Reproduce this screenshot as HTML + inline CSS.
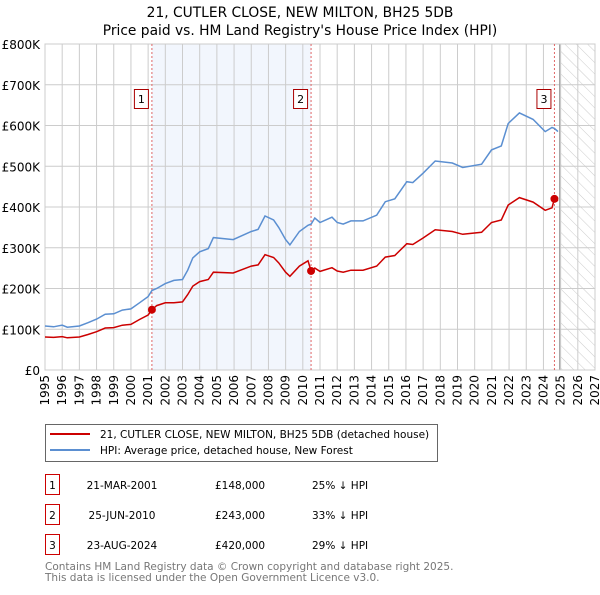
<!DOCTYPE html>
<html><head><meta charset="utf-8"><style>
body{margin:0;background:#fff;width:600px;height:590px;overflow:hidden}
svg text{font-family:"DejaVu Sans","Liberation Sans",sans-serif}
</style></head><body>
<svg id="chart" width="600" height="590" viewBox="0 0 600 590" xmlns="http://www.w3.org/2000/svg">
<defs><pattern id="hatch" width="8" height="8" patternUnits="userSpaceOnUse" patternTransform="rotate(-45)"><line x1="0" y1="0" x2="0" y2="8" stroke="#ccc" stroke-width="1"/></pattern></defs>
<text x="300" y="17" text-anchor="middle" font-size="13.8">21, CUTLER CLOSE, NEW MILTON, BH25 5DB</text>
<text x="300" y="35" text-anchor="middle" font-size="13.8">Price paid vs. HM Land Registry's House Price Index (HPI)</text>
<g id="plot"></g>
<g>
<rect x="45.5" y="424.5" width="392" height="37" fill="#fff" stroke="#666"/>
<line x1="50" y1="434" x2="90" y2="434" stroke="#cc0000" stroke-width="2"/>
<text x="100" y="438" font-size="10.5">21, CUTLER CLOSE, NEW MILTON, BH25 5DB (detached house)</text>
<line x1="50" y1="450" x2="90" y2="450" stroke="#5b8fd1" stroke-width="2"/>
<text x="100" y="454" font-size="10.5">HPI: Average price, detached house, New Forest</text>
</g>
<g id="table" font-size="10.5"></g>
<text x="45" y="570" font-size="10.5" fill="#777">Contains HM Land Registry data © Crown copyright and database right 2025.</text>
<text x="45" y="581" font-size="10.5" fill="#777">This data is licensed under the Open Government Licence v3.0.</text>
</svg>
<script>
const dates=[1995.0,1995.5,1996.0,1996.3,1997.0,1997.5,1998.0,1998.5,1999.0,1999.5,2000.0,2000.5,2001.0,2001.22,2001.5,2002.0,2002.5,2003.0,2003.3,2003.6,2004.0,2004.5,2004.8,2005.95,2007.0,2007.4,2007.8,2008.3,2008.6,2009.0,2009.25,2009.8,2010.3,2010.48,2010.7,2011.0,2011.7,2012.0,2012.35,2012.8,2013.5,2014.3,2014.8,2015.35,2016.05,2016.4,2017.0,2017.7,2018.7,2019.3,2020.4,2020.98,2021.55,2021.95,2022.6,2023.4,2024.1,2024.5,2024.64,2024.85];
const hpiValues=[108,106,110,105,108,116,125,137,138,147,150,165,180,195,200,212,220,222,245,275,290,298,325,320,340,345,378,368,350,320,307,340,355,358,373,362,375,362,358,366,366,380,413,420,462,460,483,513,508,497,505,540,550,605,631,615,585,595,593,585];
const priceValues=[81,80,82,79,81,87,94,103,104,110,112,124,135,148,158,165,165,167,185,206,217,222,240,238,255,258,283,276,263,240,230,255,268,243,250,242,251,243,240,245,245,255,277,281,310,308,324,344,340,333,338,362,368,405,423,412,392,398,420,415];
const saleLabels=['1','2','3'];
const saleDates=[2001.22,2010.48,2024.64];
const salePrices=[148,243,420];
const saleDateText=['21-MAR-2001','25-JUN-2010','23-AUG-2024'];
const salePriceText=['£148,000','£243,000','£420,000'];
const salePctText=['25% ↓ HPI','33% ↓ HPI','29% ↓ HPI'];
const yTicks=[0,100,200,300,400,500,600,700,800];
const yTickLabels=['£0','£100K','£200K','£300K','£400K','£500K','£600K','£700K','£800K'];
const xTicks=[1995,1996,1997,1998,1999,2000,2001,2002,2003,2004,2005,2006,2007,2008,2009,2010,2011,2012,2013,2014,2015,2016,2017,2018,2019,2020,2021,2022,2023,2024,2025,2026,2027];
const forecastStart=2025;

const NS='http://www.w3.org/2000/svg';
const X0=45,X1=595,Y0=370,Y1=44;
const xs=v=>X0+(v-1995)/(2027-1995)*(X1-X0);
const ys=v=>Y0-v/800*(Y0-Y1);
const plot=document.getElementById('plot');
function mk(tag,attrs,parent){const e=document.createElementNS(NS,tag);for(const k in attrs)e.setAttribute(k,attrs[k]);(parent||plot).appendChild(e);return e;}

let e=mk('rect',{x:xs(saleDates[0]),y:Y1,width:xs(saleDates[1])-xs(saleDates[0]),height:Y0-Y1,fill:'#f2f6fd'});


e=mk('rect',{x:xs(forecastStart),y:Y1,width:X1-xs(forecastStart),height:Y0-Y1,fill:'url(#hatch)'});


xTicks.forEach(t=>{
  e=mk('line',{x1:xs(t),x2:xs(t),y1:Y1,y2:Y0,stroke:'#ccc','stroke-width':1});
  
  
  e=mk('text',{x:0,y:0,'font-size':12,'text-anchor':'end',transform:`translate(${xs(t)+4},${Y0+5}) rotate(-90)`});
  e.textContent=t;
  
  
});
yTicks.forEach((t,i)=>{
  e=mk('line',{x1:X0,x2:X1,y1:ys(t),y2:ys(t),stroke:'#ccc','stroke-width':1});
  
  
  e=mk('text',{x:40,y:ys(t)+5,'font-size':12,'text-anchor':'end'});
  e.textContent=yTickLabels[i];
  
  
});
e=mk('line',{x1:xs(forecastStart)-1,x2:xs(forecastStart)-1,y1:Y1,y2:Y0,stroke:'#999','stroke-width':1});


e=mk('rect',{x:X0,y:Y1,width:X1-X0,height:Y0-Y1,fill:'none',stroke:'#ccc'});


saleDates.forEach((d,i)=>{
  e=mk('line',{x1:xs(d),x2:xs(d),y1:Y1,y2:Y0,stroke:'#e06666','stroke-width':1,'stroke-dasharray':'2,2'});
  
  
});
const path=(vals)=>dates.map((d,i)=>(i?'L':'M')+xs(d).toFixed(1)+','+ys(vals[i]).toFixed(1)).join('');
e=mk('path',{d:path(hpiValues),fill:'none',stroke:'#5b8fd1','stroke-width':1.5});


e=mk('path',{d:path(priceValues),fill:'none',stroke:'#cc0000','stroke-width':1.5});


saleDates.forEach((d,i)=>{
  e=mk('circle',{cx:xs(d),cy:ys(salePrices[i]),r:4,fill:'#cc0000'});
  
  
  const g=mk('g',{});
  
  
  mk('rect',{x:xs(d)-17.5,y:89.5,width:14,height:19,fill:'#fff',stroke:'#aa0000'},g);
  const t=mk('text',{x:xs(d)-10.5,y:103,'font-size':11,'text-anchor':'middle'},g);
  t.textContent=saleLabels[i];
});
const tbl=document.getElementById('table');
saleLabels.forEach((l,i)=>{
  const y=485+i*30;
  const g=mk('g',{},tbl);
  
  
  mk('rect',{x:45.5,y:y-10.5,width:14,height:20,fill:'#fff',stroke:'#cc0000'},g);
  let t=mk('text',{x:52.5,y:y+4,'text-anchor':'middle'},g);t.textContent=l;
  t=mk('text',{x:122,y:y+4,'text-anchor':'middle'},g);t.textContent=saleDateText[i];
  t=mk('text',{x:215,y:y+4},g);t.textContent=salePriceText[i];
  t=mk('text',{x:312,y:y+4},g);t.textContent=salePctText[i];
});
</script>
</body></html>
